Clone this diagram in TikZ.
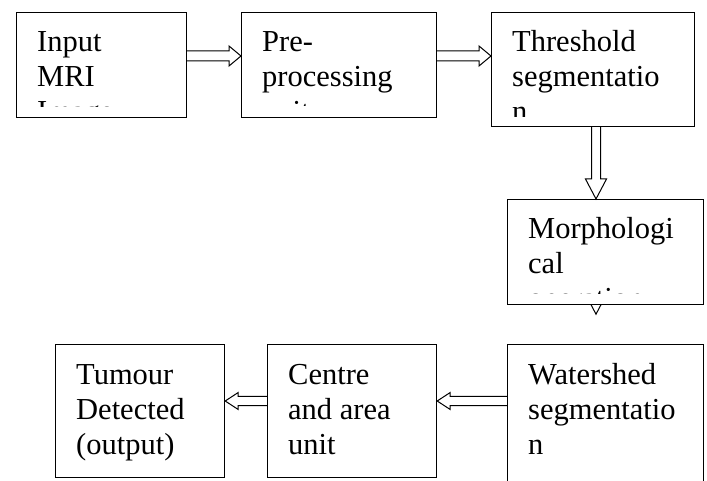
\documentclass[tikz,border=0pt]{standalone}
\usepackage{fontspec}
\setmainfont{Liberation Serif}
\usetikzlibrary{calc}
\pgfdeclarelayer{bg}
\pgfsetlayers{bg,main}
\tikzset{
  box/.style={draw, line width=1.2pt, fill=white, rectangle, inner sep=0pt, anchor=north west},
  txt/.style={inner sep=0pt, anchor=base west, font=\fontsize{30.5}{35}\selectfont},
  hollowarrow/.style n args={3}{line width=1pt, line join=miter, to path={
    ($(\tikztostart)!#2!90:(\tikztotarget)$) --
    ($(\tikztotarget)!#1!(\tikztostart)!#2!-90:(\tikztostart)$) --
    ($(\tikztotarget)!#1!(\tikztostart)!#3!-90:(\tikztostart)$) --
    (\tikztotarget) --
    ($(\tikztotarget)!#1!(\tikztostart)!#3!90:(\tikztostart)$) --
    ($(\tikztotarget)!#1!(\tikztostart)!#2!90:(\tikztostart)$) --
    ($(\tikztostart)!#2!-90:(\tikztotarget)$)}}
}
% #1 box name, #2 text, #3 bottom inset of the text area
\newcommand{\boxtext}[3]{%
  \begin{scope}
    \clip (#1.north west) rectangle ($(#1.south east)+(0,-#3)$);
    \node[txt] (#1t) at ($(#1.north west)+(21,40)$) {\parbox[t]{260pt}{#2}};
  \end{scope}}
\begin{document}
\begin{tikzpicture}[x=1pt,y=-1pt]
\useasboundingbox (0,0) rectangle (707,481);
% boxes
\node[box, minimum width=170pt, minimum height=105pt] (b1) at (16,12) {};
\node[box, minimum width=195pt, minimum height=105pt] (b2) at (241,12) {};
\node[box, minimum width=203pt, minimum height=114pt] (b3) at (491,12) {};
\node[box, minimum width=196pt, minimum height=105pt] (b4) at (507,199) {};
\node[box, minimum width=196pt, minimum height=200pt] (b5) at (507,344) {};
\node[box, minimum width=169pt, minimum height=133pt] (b6) at (267,344) {};
\node[box, minimum width=169pt, minimum height=133pt] (b7) at (55,344) {};
% texts
\boxtext{b1}{Input\\MRI\\Image}{12}
\boxtext{b2}{Pre-\\processing\\unit}{13}
\boxtext{b3}{Threshold\\segmentatio\\n}{11}
\boxtext{b4}{Morphologi\\cal\\operation}{12}
\boxtext{b5}{Watershed\\segmentatio\\n}{0}
\boxtext{b6}{Centre\\and area\\unit}{0}
\boxtext{b7}{Tumour\\Detected\\(output)}{0}
% connector end points
\coordinate (a1s) at ($(b1.north east)+(0,44)$);
\coordinate (a1e) at ($(b2.north west)+(0,44)$);
\coordinate (a2s) at ($(b2.north east)+(0,44)$);
\coordinate (a2e) at ($(b3.north west)+(0,44)$);
\coordinate (a3s) at ($(b3.south west)+(105,0)$);
\coordinate (a3e) at ($(b4.north west)+(89,0)$);
\coordinate (a4s) at ($(b4.south west)+(89,-50)$);
\coordinate (a4e) at ($(b4.south west)+(89,9)$);
\coordinate (a5s) at ($(b5.north west)+(0,57)$);
\coordinate (a5e) at ($(b6.north east)+(0,57)$);
\coordinate (a6s) at ($(b6.north west)+(0,57)$);
\coordinate (a6e) at ($(b7.north east)+(0,57)$);
% connectors
\draw[hollowarrow={12pt}{5pt}{10pt}] (a1s) to (a1e);
\draw[hollowarrow={12pt}{5pt}{10pt}] (a2s) to (a2e);
\draw[hollowarrow={20pt}{4.5pt}{10.5pt}] (a3s) to (a3e);
\begin{pgfonlayer}{bg}
\draw[hollowarrow={20pt}{4.5pt}{10.5pt}] (a4s) to (a4e);
\end{pgfonlayer}
\draw[hollowarrow={13pt}{4.6pt}{8.5pt}] (a5s) to (a5e);
\draw[hollowarrow={13pt}{4.6pt}{8.5pt}] (a6s) to (a6e);
\end{tikzpicture}
\end{document}
